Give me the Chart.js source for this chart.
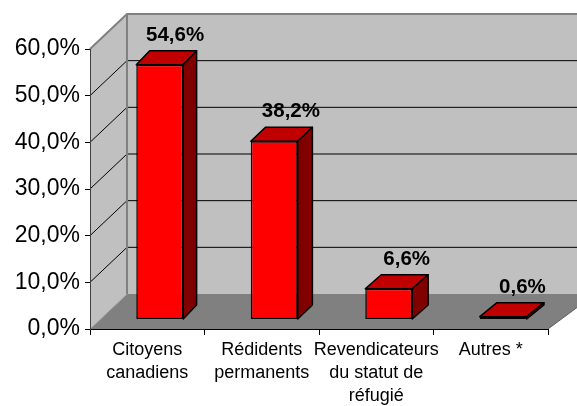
<!DOCTYPE html>
<html>
<head>
<meta charset="utf-8">
<script src="https://cdn.jsdelivr.net/npm/chart.js@4.4.1/dist/chart.umd.min.js"></script>
<style>
  html, body { margin: 0; padding: 0; background: #fff; }
  #wrap { width: 577px; height: 406px; }
</style>
</head>
<body>
<div id="wrap"><canvas id="chart"></canvas></div>
<script>
'use strict';

// ── Data ─────────────────────────────────────────────────────────────────────
const categories = [
  ['Citoyens', 'canadiens'],
  ['Rédidents', 'permanents'],
  ['Revendicateurs', 'du statut de', 'réfugié'],
  ['Autres *'],
];
const shares = [54.6, 38.2, 6.6, 0.6];   // %
const yTicks = [0, 10, 20, 30, 40, 50, 60];

// ── Look ─────────────────────────────────────────────────────────────────────
const FONT       = '"Liberation Sans", Arial, sans-serif';
const WALL       = '#c0c0c0';
const FLOOR      = '#808080';
const EDGE       = '#808080';
const RED_FRONT  = '#ff0000';
const RED_TOP    = '#c00000';
const RED_SIDE   = '#800000';
const WALL_DEPTH = 35;           // px, floor / wall depth
const BAR_SHIFT  = [12.5, -9.5]; // front face of bars sits inside the box
const BAR_DEPTH  = 14;           // px

const fmtPct = v => v.toFixed(1).replace('.', ',') + '%';

// oblique slant grows a little toward the right (Excel perspective)
function slant(x)    { return 1.057 + (x - 90) * 0.00064; }
function barSlant(x) { return 0.9 + (x - 90) * 0.0008; }
function back(x, y)  { return [x + WALL_DEPTH * slant(x), y - WALL_DEPTH]; }

function poly(ctx, pts) {
  ctx.beginPath();
  ctx.moveTo(pts[0][0], pts[0][1]);
  for (let i = 1; i < pts.length; i++) ctx.lineTo(pts[i][0], pts[i][1]);
  ctx.closePath();
}

// ── 3D box: walls, floor, gridlines ──────────────────────────────────────────
const boxPlugin = {
  id: 'box3d',
  beforeDraw(chart) {
    const { ctx, chartArea: a, scales: { y } } = chart;
    const top = y.getPixelForValue(yTicks[yTicks.length - 1]);
    const bot = y.getPixelForValue(0);
    ctx.save();
    ctx.fillStyle = '#fff';
    ctx.fillRect(0, 0, chart.width, chart.height);

    const btl = back(a.left, top), btr = back(a.right, top);
    const bbl = back(a.left, bot), bbr = back(a.right, bot);

    // back wall + side wall
    ctx.fillStyle = WALL;
    poly(ctx, [btl, btr, bbr, bbl]);
    ctx.fill();
    poly(ctx, [[a.left, top], btl, bbl, [a.left, bot]]);
    ctx.fill();

    // gridlines
    ctx.strokeStyle = '#000';
    ctx.lineWidth = 1;
    yTicks.slice(1, -1).forEach(v => {
      const py = y.getPixelForValue(v);
      const b = back(a.left, py);
      ctx.beginPath();
      ctx.moveTo(a.left, py);
      ctx.lineTo(b[0], b[1]);
      ctx.lineTo(back(a.right, py)[0], b[1]);
      ctx.stroke();
    });

    // floor
    ctx.fillStyle = FLOOR;
    poly(ctx, [[a.left, bot], bbl, bbr, [a.right, bot]]);
    ctx.fill();
    ctx.strokeStyle = '#606060';
    ctx.beginPath();
    ctx.moveTo(a.right, bot);
    ctx.lineTo(bbr[0], bbr[1]);
    ctx.stroke();
    ctx.strokeStyle = '#a8a8a8';
    ctx.beginPath();
    ctx.moveTo(a.left, bot);
    ctx.lineTo(bbl[0], bbl[1]);
    ctx.stroke();

    // box edges
    ctx.strokeStyle = EDGE;
    ctx.lineWidth = 2;
    ctx.beginPath();
    ctx.moveTo(a.left, top);
    ctx.lineTo(btl[0], btl[1]);
    ctx.lineTo(btr[0], btr[1]);
    ctx.moveTo(btl[0], btl[1]);
    ctx.lineTo(bbl[0], bbl[1]);
    ctx.stroke();
    ctx.restore();
  },

  beforeDatasetsDraw(chart) {
    chart.ctx.save();
    chart.ctx.translate(BAR_SHIFT[0], BAR_SHIFT[1]);
  },

  afterDatasetsDraw(chart) {
    const ctx = chart.ctx;
    const meta = chart.getDatasetMeta(0);
    ctx.lineWidth = 1.5;
    ctx.lineJoin = 'round';
    ctx.strokeStyle = '#000';
    const tops = [];
    meta.data.forEach(el => {
      const { x, y, base, width } = el.getProps(['x', 'y', 'base', 'width'], true);
      const L = x - width / 2, R = x + width / 2;
      const dx = BAR_DEPTH * barSlant(x + BAR_SHIFT[0]);
      const dy = BAR_DEPTH;
      ctx.fillStyle = RED_TOP;
      poly(ctx, [[L, y], [L + dx, y - dy], [R + dx, y - dy], [R, y]]);
      ctx.fill(); ctx.stroke();
      ctx.fillStyle = RED_SIDE;
      poly(ctx, [[R, y], [R + dx, y - dy], [R + dx, base - dy], [R, base]]);
      ctx.fill(); ctx.stroke();
      tops.push([x + dx + BAR_SHIFT[0], y - dy + BAR_SHIFT[1]]);
    });
    ctx.restore();

    // value labels
    ctx.save();
    ctx.font = 'bold 20.5px ' + FONT;
    ctx.fillStyle = '#000';
    ctx.textAlign = 'center';
    ctx.textBaseline = 'alphabetic';
    tops.forEach((p, i) => {
      ctx.fillText(fmtPct(shares[i]), p[0] + 2, p[1] - 10);
    });
    ctx.restore();
  },
};

// ── Chart ────────────────────────────────────────────────────────────────────
new Chart(document.getElementById('chart'), {
  type: 'bar',
  data: {
    labels: categories,
    datasets: [{
      data: shares,
      backgroundColor: RED_FRONT,
      borderColor: '#000',
      borderWidth: 1.5,
      borderSkipped: false,
      categoryPercentage: 1,
      barPercentage: 0.41,
    }],
  },
  options: {
    responsive: true,
    maintainAspectRatio: false,
    animation: false,
    layout: { padding: { top: 49, right: 29, left: 0, bottom: 0 } },
    plugins: {
      legend: { display: false },
      tooltip: { enabled: false },
    },
    scales: {
      x: {
        afterFit: s => { s.height = 77; },
        grid: {
          display: true, drawOnChartArea: false, drawTicks: true,
          tickLength: 6, color: '#000', offset: true,
        },
        border: { display: true, color: '#000', width: 1 },
        ticks: {
          color: '#000', padding: 3, maxRotation: 0, autoSkip: false,
          font: { family: FONT, size: 18, lineHeight: 1.3 },
        },
      },
      y: {
        min: yTicks[0],
        max: yTicks[yTicks.length - 1],
        afterFit: s => { s.width = 90; },
        grid: {
          display: true, drawOnChartArea: false, drawTicks: true,
          tickLength: 5, color: '#000',
        },
        border: { display: true, color: '#404040', width: 1 },
        ticks: {
          stepSize: 10, color: '#000', padding: 5,
          font: { family: FONT, size: 23 },
          callback: v => fmtPct(v),
        },
      },
    },
  },
  plugins: [boxPlugin],
});
</script>
</body>
</html>
